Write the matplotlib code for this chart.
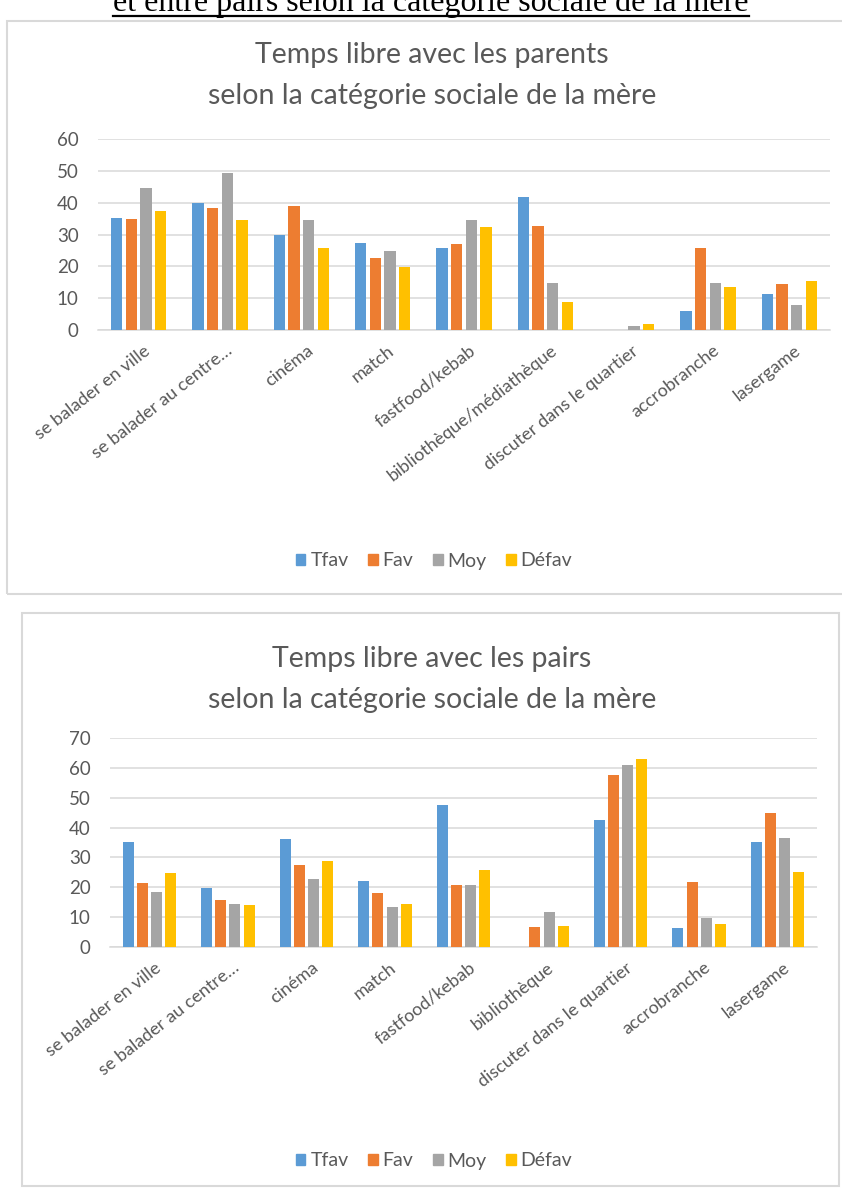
import matplotlib
matplotlib.use('Agg')
import matplotlib.pyplot as plt
from matplotlib.patches import Rectangle, Patch
from matplotlib.lines import Line2D
import numpy as np

# --- data ---
series = ["Tfav", "Fav", "Moy", "Défav"]
colors = ["#5B9BD5", "#ED7D31", "#A5A5A5", "#FFC000"]

parents_cats = ["se balader en ville", "se balader au centre…", "cinéma", "match",
                "fastfood/kebab", "bibliothèque/médiathèque", "discuter dans le quartier",
                "accrobranche", "lasergame"]
parents_tfav = [35.1, 39.8, 29.7, 27.2, 25.8, 41.9, 0, 6.1, 11.3]
parents_fav = [34.8, 38.4, 39.0, 22.6, 27.0, 32.8, 0, 25.8, 14.5]
parents_moy = [44.5, 49.2, 34.4, 24.7, 34.6, 14.8, 1.1, 14.8, 8.0]
parents_defav = [37.4, 34.5, 25.9, 19.8, 32.2, 8.7, 1.9, 13.4, 15.3]

pairs_cats = ["se balader en ville", "se balader au centre…", "cinéma", "match",
              "fastfood/kebab", "bibliothèque", "discuter dans le quartier",
              "accrobranche", "lasergame"]
pairs_tfav = [35.3, 19.9, 36.1, 22.2, 47.6, 0, 42.6, 6.3, 35.1]
pairs_fav = [21.5, 15.9, 27.4, 18.1, 20.9, 6.7, 57.5, 21.7, 44.9]
pairs_moy = [18.5, 14.3, 22.7, 13.4, 20.9, 11.6, 60.8, 9.6, 36.5]
pairs_defav = [24.7, 14.0, 28.8, 14.4, 25.8, 6.9, 62.9, 7.8, 25.0]

W, H = 842, 1188
GRAY_TXT = "#595959"
GRID = "#D9D9D9"
FONT = "Lato"

fig = plt.figure(figsize=(W / 100, H / 100), dpi=100)


def fx(x):
    return x / W


def fy(y):
    return 1 - y / H


# header line, cut at the top of the page like in the scan
fig.text(fx(431), fy(11), "et entre pairs selon la catégorie sociale de la mère",
         family="Liberation Serif", fontsize=23, color="black", ha="center", va="baseline")
fig.add_artist(Line2D([fx(113), fx(749)], [fy(16), fy(16)], color="black", lw=1.6))

# chart frames
for (x0, y0, x1, y1) in [(7, 21, 855, 594), (22, 613, 839, 1186)]:
    fig.add_artist(Rectangle((fx(x0), fy(y1)), fx(x1) - fx(x0), fy(y0) - fy(y1),
                             fill=False, edgecolor=GRID, lw=1.5))


def draw_chart(rect, cats, vals, ymax, title_lines, title_ys, legend_y):
    ax = fig.add_axes(rect)
    x = np.arange(len(cats))
    step, bw = 0.18, 0.14
    for i, (name, v) in enumerate(zip(series, vals)):
        ax.bar(x + (i - 1.5) * step, v, width=bw, color=colors[i], label=name, zorder=3)
    ax.set_xlim(-0.5, len(cats) - 0.5)
    ax.set_ylim(0, ymax)
    ax.set_yticks(np.arange(0, ymax + 1, 10))
    ax.yaxis.grid(True, color=GRID, lw=1.1, zorder=0)
    for s in ["top", "right", "left"]:
        ax.spines[s].set_visible(False)
    ax.spines["bottom"].set_color(GRID)
    ax.spines["bottom"].set_linewidth(1.1)
    ax.set_xticks(x + 0.06)
    ax.set_xticklabels(cats, rotation=38, ha="right", va="top", rotation_mode="anchor",
                       family=FONT, fontsize=13, color=GRAY_TXT)
    ax.tick_params(axis="x", length=0, pad=9)
    ax.tick_params(axis="y", length=0, pad=14, labelsize=13.5, labelcolor=GRAY_TXT)
    for t in ax.get_yticklabels():
        t.set_family(FONT)
    for line, yy in zip(title_lines, title_ys):
        fig.text(fx(432), fy(yy), line, family=FONT, fontsize=20.5, color=GRAY_TXT,
                 ha="center", va="baseline")
    handles = [Patch(color=c) for c in colors]
    fig.legend(handles, series, loc="center", bbox_to_anchor=(fx(434), fy(legend_y)),
               ncol=4, frameon=False, handlelength=0.5, handleheight=0.5,
               handletextpad=0.25, columnspacing=1.0,
               prop={"family": FONT, "size": 14}, labelcolor=GRAY_TXT)
    return ax


draw_chart([fx(98), fy(330), fx(830) - fx(98), fy(139) - fy(330)], parents_cats,
           [parents_tfav, parents_fav, parents_moy, parents_defav], 60,
           ["Temps libre avec les parents", "selon la catégorie sociale de la mère"],
           [63, 104], 561)

draw_chart([fx(110), fy(947), fx(817) - fx(110), fy(738) - fy(947)], pairs_cats,
           [pairs_tfav, pairs_fav, pairs_moy, pairs_defav], 70,
           ["Temps libre avec les pairs", "selon la catégorie sociale de la mère"],
           [667, 708], 1161)

plt.savefig("out.png", dpi=100)
plt.close()
